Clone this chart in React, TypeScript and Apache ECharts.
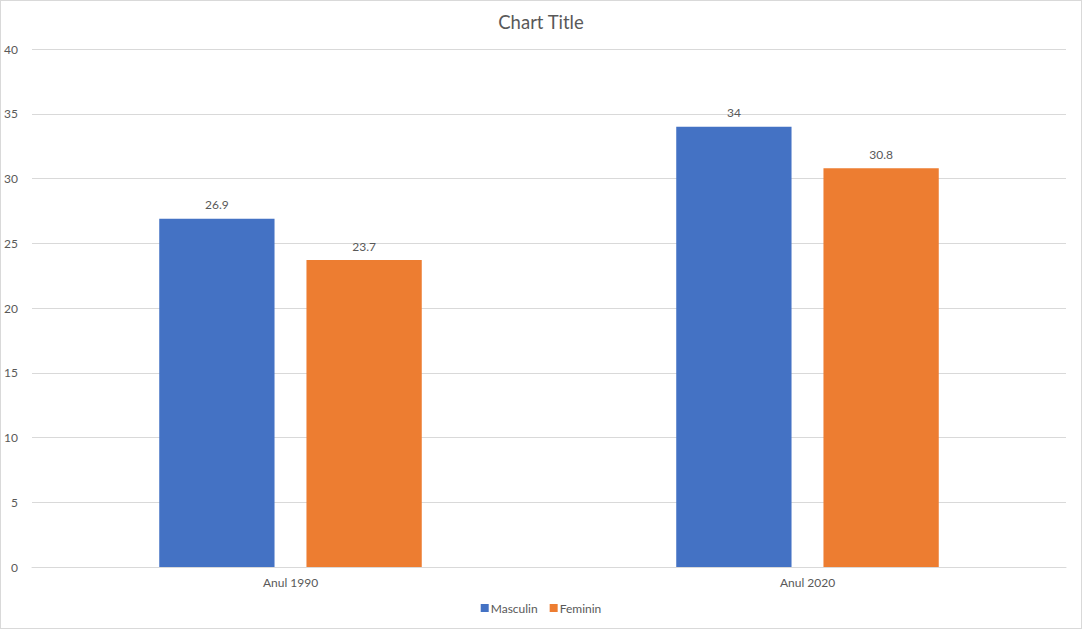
import React, { useEffect, useRef } from "react";
import * as echarts from "echarts";

const categories = ["Anul 1990", "Anul 2020"];
const masculin = [26.9, 34];
const feminin = [23.7, 30.8];
const seriesNames = ["Masculin", "Feminin"];

const FONT = "Lato, 'Open Sans', sans-serif";
const TEXT = "#595959";

export default function App() {
  const ref = useRef<HTMLDivElement>(null);
  useEffect(() => {
    document.body.style.margin = "0";
    if (!ref.current) return;
    const chart = echarts.init(ref.current, undefined, { renderer: "svg" });
    const label = {
      show: true,
      position: "top" as const,
      distance: 8,
      color: TEXT,
      fontSize: 12,
      fontFamily: FONT,
    };
    chart.setOption({
      animation: false,
      backgroundColor: "#fff",
      title: {
        text: "Chart Title",
        left: "center",
        top: 6,
        textStyle: { color: TEXT, fontSize: 18.5, fontWeight: "normal", fontFamily: FONT },
      },
      legend: {
        bottom: 9,
        left: "center",
        itemWidth: 8,
        itemHeight: 8,
        itemGap: 12,
        icon: "rect",
        textStyle: { color: TEXT, fontSize: 12, fontFamily: FONT, padding: [0, 0, 0, -3] },
        data: seriesNames,
      },
      grid: { left: 31, right: 15, top: 48, bottom: 61, containLabel: false },
      xAxis: {
        type: "category",
        data: categories,
        axisLine: { lineStyle: { color: "#d9d9d9" } },
        axisTick: { show: false },
        axisLabel: { color: TEXT, fontSize: 12, fontFamily: FONT, margin: 9 },
      },
      yAxis: {
        type: "value",
        min: 0,
        max: 40,
        interval: 5,
        axisLine: { show: false },
        axisTick: { show: false },
        splitLine: { lineStyle: { color: "#d9d9d9" } },
        axisLabel: { color: TEXT, fontSize: 12, fontFamily: FONT, margin: 14 },
      },
      series: [
        {
          name: seriesNames[0],
          type: "bar",
          data: masculin,
          barWidth: "22.3%",
          barGap: "27.7%",
          itemStyle: { color: "#4472C4" },
          label,
        },
        {
          name: seriesNames[1],
          type: "bar",
          data: feminin,
          barWidth: "22.3%",
          barGap: "27.7%",
          itemStyle: { color: "#ED7D31" },
          label,
        },
      ],
    });
    return () => chart.dispose();
  }, []);
  return (
    <div
      style={{
        width: 1082,
        height: 629,
        boxSizing: "border-box",
        border: "1px solid #d9d9d9",
        background: "#fff",
      }}
    >
      <div ref={ref} style={{ width: 1080, height: 627 }} />
    </div>
  );
}
